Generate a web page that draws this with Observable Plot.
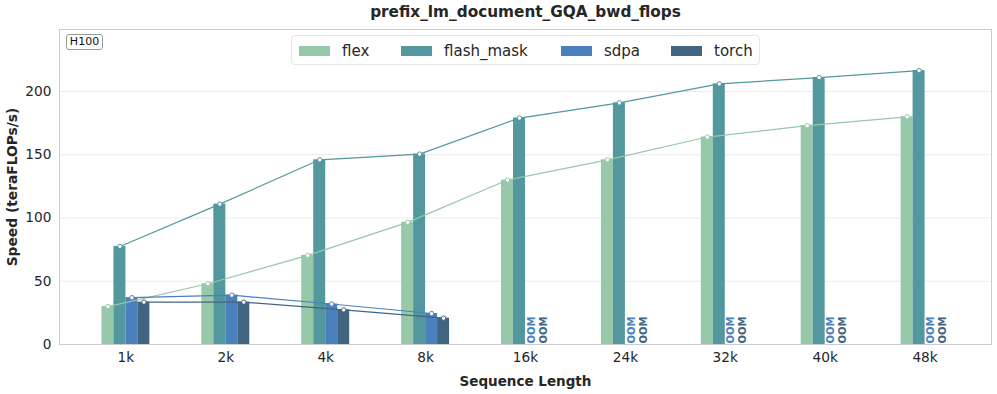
<!DOCTYPE html>
<html><head><meta charset="utf-8">
<script src="https://cdn.jsdelivr.net/npm/d3@7"></script>
<script src="https://cdn.jsdelivr.net/npm/@observablehq/plot@0.6"></script>
<style>
body{margin:0;background:#fff;font-family:"DejaVu Sans",sans-serif;}
#wrap{position:relative;width:997px;height:394px;overflow:hidden;}
#wrap svg{position:absolute;left:0;top:0;}
.legend{position:absolute;left:291px;top:35px;width:469px;height:30px;border:1px solid #e6e6e6;border-radius:4px;background:rgba(255,255,255,0.8);box-sizing:border-box;}
.item{position:absolute;top:0;height:30px;display:flex;align-items:center;font-size:15px;color:#262626;}
.sw{width:31px;height:10px;margin-right:12px;}
.badge{position:absolute;left:66px;top:34px;width:37px;height:16px;border:1px solid #999;border-radius:3px;box-sizing:border-box;font-size:11px;line-height:14px;text-align:center;color:#111;background:#fff;}
</style></head><body><div id="wrap"></div>
<script>
const title = "prefix_lm_document_GQA_bwd_flops";
const categories = ["1k","2k","4k","8k","16k","24k","32k","40k","48k"];
const seriesNames = ["flex","flash_mask","sdpa","torch"];
const flex      = [30, 48, 70.5, 96.5, 130, 146, 164, 173, 180];
const flashMask = [77.5, 111, 146, 150.5, 179, 191, 206, 211, 216.5];
const sdpa      = [37, 39, 32, 24.5, null, null, null, null, null];
const torch     = [33.5, 33.5, 27.4, 20.8, null, null, null, null, null];
const colors = ["#96c8a9", "#52989e", "#4a80bc", "#416580"];
const yTicks = [0, 50, 100, 150, 200];
const yLabel = "Speed (teraFLOPs/s)";
const xLabel = "Sequence Length";
const badgeText = "H100";

const seriesValues = [flex, flashMask, sdpa, torch];
const barW = 0.12;
const rows = [];
seriesNames.forEach((s, k) => {
  categories.forEach((c, i) => {
    rows.push({series: s, cat: c, i, k, value: seriesValues[k][i], xc: i + (k - 1.5) * barW});
  });
});
const valid = rows.filter(d => d.value != null);
const oom = rows.filter(d => d.value == null);

const plot = Plot.plot({
  width: 997, height: 394,
  marginLeft: 59, marginRight: 6, marginTop: 29, marginBottom: 50,
  style: {fontFamily: "DejaVu Sans, sans-serif", fontSize: "13px", color: "#262626", background: "transparent"},
  x: {domain: [-0.665, categories.length - 1 + 0.665], axis: null},
  y: {domain: [0, 249], axis: null},
  color: {domain: seriesNames, range: colors},
  marks: [
    Plot.gridY(yTicks, {stroke: "#ebebeb", strokeOpacity: 1, strokeWidth: 1}),
    Plot.rectY(valid, {x1: d => d.xc - barW / 2, x2: d => d.xc + barW / 2, y1: 0, y2: "value", fill: "series"}),
    Plot.line(valid, {x: "xc", y: "value", z: "series", stroke: "series", strokeWidth: 1.2}),
    Plot.dot(valid, {x: "xc", y: "value", r: 2.2, fill: "white", stroke: "series", strokeWidth: 1}),
    Plot.text(oom, {x: "xc", y: 0, text: () => "OOM", rotate: -90, textAnchor: "start", lineAnchor: "middle", fill: "series", fontWeight: "bold", fontSize: 10, dy: -1}),
    Plot.frame({stroke: "#cccccc", strokeWidth: 1}),
    Plot.axisX(d3.range(categories.length), {tickFormat: i => categories[i], tickSize: 0, tickPadding: 8, fontSize: 13.7, label: null}),
    Plot.axisY(yTicks, {tickSize: 0, tickPadding: 8, fontSize: 13.7, label: null}),
    Plot.text([title], {text: d => d, frameAnchor: "top", lineAnchor: "middle", dy: -17, fontWeight: "bold", fontSize: 15.3, fill: "#262626"}),
    Plot.text([yLabel], {text: d => d, frameAnchor: "left", textAnchor: "middle", lineAnchor: "middle", rotate: -90, dx: -47, fontWeight: "bold", fontSize: 13.8, fill: "#262626"}),
    Plot.text([xLabel], {text: d => d, frameAnchor: "bottom", lineAnchor: "middle", dy: 37, fontWeight: "bold", fontSize: 13.5, fill: "#262626"})
  ]
});
const wrap = document.getElementById("wrap");
wrap.appendChild(plot);

const legend = document.createElement("div");
legend.className = "legend";
const lefts = [7, 109, 269, 379];
seriesNames.forEach((s, k) => {
  const it = document.createElement("div");
  it.className = "item";
  it.style.left = lefts[k] + "px";
  const sw = document.createElement("div");
  sw.className = "sw";
  sw.style.background = colors[k];
  const tx = document.createElement("span");
  tx.textContent = s;
  it.appendChild(sw); it.appendChild(tx);
  legend.appendChild(it);
});
wrap.appendChild(legend);

const badge = document.createElement("div");
badge.className = "badge";
badge.textContent = badgeText;
wrap.appendChild(badge);
</script></body></html>
